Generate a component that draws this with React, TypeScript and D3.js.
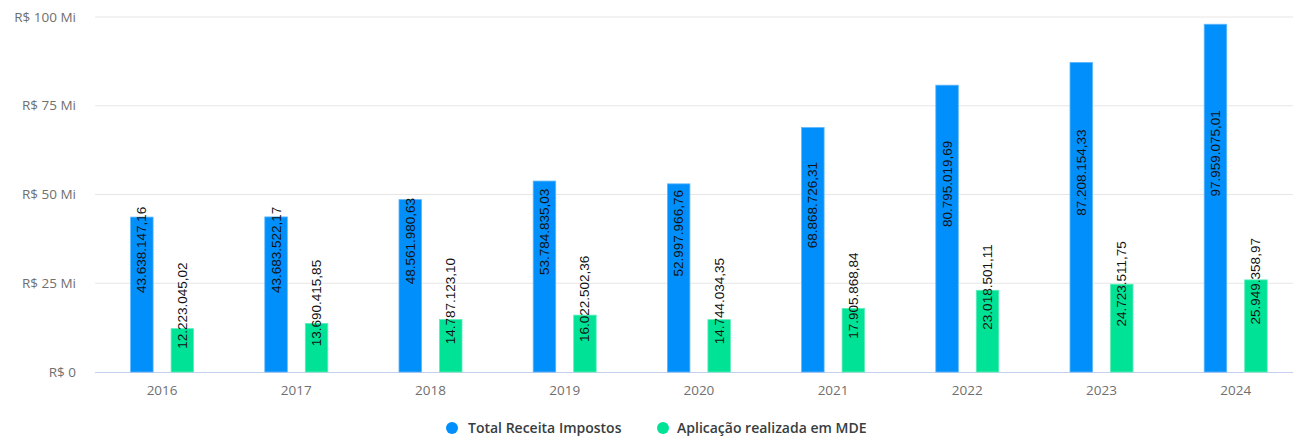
import React from "react";
import * as d3 from "d3";

const years = ["2016", "2017", "2018", "2019", "2020", "2021", "2022", "2023", "2024"];
const totalReceita = [43638147.16, 43683522.17, 48561980.63, 53784835.03, 52997966.76, 68868726.31, 80795019.69, 87208154.33, 97959075.01];
const aplicacaoMDE = [12223045.02, 13690415.85, 14787123.10, 16022502.36, 14744034.35, 17905868.84, 23018501.11, 24723511.75, 25949358.97];
const seriesNames = ["Total Receita Impostos", "Aplicação realizada em MDE"];
const seriesColors = ["#008FFB", "#00E396"];
const yTicks = [0, 25e6, 50e6, 75e6, 100e6];
const yTickLabels = ["R$ 0", "R$ 25 Mi", "R$ 50 Mi", "R$ 75 Mi", "R$ 100 Mi"];

const W = 1293;
const H = 436;
const left = 95;
const top = 17;
const bottom = 372;

const locale = d3.formatLocale({ decimal: ",", thousands: ".", grouping: [3], currency: ["R$ ", ""] });
const fmt = locale.format(",.2f");

export default function App() {
  const x = d3.scaleBand<string>().domain(years).range([left, left + 9 * 134.2]).padding(0);
  const y = d3.scaleLinear().domain([0, 100e6]).range([bottom, top]);
  const groupW = 63;
  const inner = d3.scaleBand<number>().domain([0, 1]).range([-groupW / 2, groupW / 2]).paddingInner(0.444).paddingOuter(0);
  const series = [totalReceita, aplicacaoMDE];
  const bw = inner.bandwidth();

  return (
    <svg width={W} height={H} style={{ position: "absolute", left: 0, top: 0, background: "#fff" }}>
      {yTicks.map((t, i) => (
        <g key={t}>
          {i > 0 && <line x1={left} x2={W} y1={y(t)} y2={y(t)} stroke="#e6e6e6" strokeWidth={1} />}
          <text x={76} y={y(t)} dy="0.35em" textAnchor="end" fontFamily="'Open Sans', sans-serif" fontSize={13.5} fill="#6f6f6f">
            {yTickLabels[i]}
          </text>
        </g>
      ))}
      <line x1={left} x2={W} y1={bottom + 0.5} y2={bottom + 0.5} stroke="#c4d0ec" strokeWidth={1} />
      {years.map((yr) => (
        <text key={yr} x={x(yr)! + x.bandwidth() / 2} y={395} textAnchor="middle" fontFamily="'Open Sans', sans-serif" fontSize={13.5} fill="#6f6f6f">
          {yr}
        </text>
      ))}
      {series.map((vals, si) =>
        vals.map((v, i) => {
          const cx = x(years[i])! + x.bandwidth() / 2 + inner(si)! + bw / 2;
          const yt = y(v);
          return (
            <rect key={`${si}-${i}`} x={cx - bw / 2} y={yt} width={bw} height={bottom - yt} fill={seriesColors[si]} stroke={si === 0 ? "#5fb6fb" : "#5fedb6"} strokeWidth={0.8} />
          );
        })
      )}
      {series.map((vals, si) =>
        vals.map((v, i) => {
          const cx = x(years[i])! + x.bandwidth() / 2 + inner(si)! + bw / 2;
          const cy = (y(v) + bottom) / 2 - 1.5;
          return (
            <text key={`l${si}-${i}`} transform={`translate(${cx},${cy}) rotate(-90)`} textAnchor="start" dominantBaseline="central" fontFamily="'Liberation Sans', Arial, sans-serif" fontSize={13.5} fill="#111">
              {fmt(v)}
            </text>
          );
        })
      )}
      {[{ cx: 452, tx: 468 }, { cx: 663, tx: 677 }].map((p, i) => (
        <g key={i}>
          <circle cx={p.cx} cy={428} r={6} fill={seriesColors[i]} />
          <text x={p.tx} y={433} fontFamily="'Open Sans', sans-serif" fontSize={14} fontWeight={600} fill="#373d3f">
            {seriesNames[i]}
          </text>
        </g>
      ))}
    </svg>
  );
}
